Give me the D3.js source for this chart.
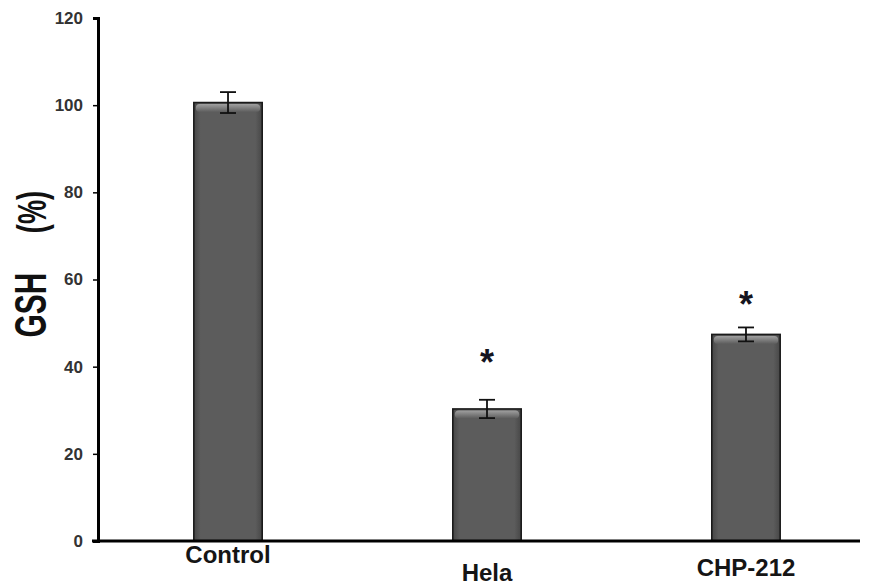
<!DOCTYPE html>
<html><head><meta charset="utf-8">
<script src="https://cdn.jsdelivr.net/npm/d3@7"></script>
<style>body{margin:0;background:#fff}</style>
</head><body>
<svg id="c" width="872" height="587"></svg>
<script>
const categories = ["Control", "Hela", "CHP-212"];
const values = [100.6, 30.3, 47.4];
const errors = [2.4, 2.1, 1.6];
const starValues = [null, 42.4, 55.8];
const yTicks = [0, 20, 40, 60, 80, 100, 120];
const yLabelMain = "GSH";
const yLabelUnit = "(%)";

const svg = d3.select("#c");
const font = "'Liberation Sans', Arial, sans-serif";
const mLeft = 98, mRight = 876, mTop = 18, mBottom = 541;
const y = d3.scaleLinear().domain([0, 120]).range([mBottom, mTop]);
const x = d3.scaleBand().domain(categories).range([mLeft, mRight]).paddingInner(0.736).paddingOuter(0.37);

const defs = svg.append("defs");
const g = defs.append("linearGradient").attr("id", "bg").attr("x1", 0).attr("x2", 1).attr("y1", 0).attr("y2", 0);
g.append("stop").attr("offset", "0").attr("stop-color", "#474747");
g.append("stop").attr("offset", "0.1").attr("stop-color", "#5c5c5c");
g.append("stop").attr("offset", "0.9").attr("stop-color", "#5c5c5c");
g.append("stop").attr("offset", "1").attr("stop-color", "#474747");
const gt = defs.append("linearGradient").attr("id", "tg").attr("x1", 0).attr("x2", 0).attr("y1", 0).attr("y2", 1);
gt.append("stop").attr("offset", "0").attr("stop-color", "#a0a0a0");
gt.append("stop").attr("offset", "1").attr("stop-color", "#5c5c5c");

// bars
const bars = svg.append("g");
categories.forEach((c, i) => {
  const bx = x(c), bw = x.bandwidth(), by = y(values[i]);
  bars.append("rect").attr("x", bx).attr("y", by).attr("width", bw).attr("height", mBottom - by)
    .attr("fill", "url(#bg)").attr("stroke", "#1a1a1a").attr("stroke-width", 1.6);
  bars.append("rect").attr("x", bx + 2).attr("y", by + 1.5).attr("width", bw - 4).attr("height", 8)
    .attr("fill", "url(#tg)").attr("rx", 4);
  const cx = bx + bw / 2;
  const e = svg.append("g").attr("stroke", "#111").attr("stroke-width", 1.8);
  e.append("line").attr("x1", cx).attr("x2", cx).attr("y1", y(values[i] - errors[i])).attr("y2", y(values[i] + errors[i]));
  [values[i] - errors[i], values[i] + errors[i]].forEach(v =>
    e.append("line").attr("x1", cx - 8).attr("x2", cx + 8).attr("y1", y(v)).attr("y2", y(v)));
  if (starValues[i] != null) {
    svg.append("text").attr("x", cx).attr("y", y(starValues[i]) + 19).attr("text-anchor", "middle")
      .attr("font-family", font).attr("font-weight", "bold").attr("font-size", 36).attr("fill", "#151520").text("*");
  }
});

// y axis
const ya = svg.append("g").attr("transform", `translate(${mLeft},0)`)
  .call(d3.axisLeft(y).tickValues(yTicks).tickSize(5).tickPadding(10));
ya.select(".domain").attr("stroke", "#000").attr("stroke-width", 3);
ya.selectAll(".tick line").attr("stroke", "#000").attr("stroke-width", 1.5);
ya.selectAll("text").attr("font-family", font).attr("font-weight", "bold").attr("font-size", 17).attr("fill", "#333");

// x axis line
svg.append("line").attr("x1", mLeft - 6).attr("x2", 860).attr("y1", mBottom).attr("y2", mBottom)
  .attr("stroke", "#000").attr("stroke-width", 3);

// x labels
const labelY = [563, 581, 576];
categories.forEach((c, i) => {
  svg.append("text").attr("x", x(c) + x.bandwidth() / 2).attr("y", labelY[i]).attr("text-anchor", "middle")
    .attr("font-family", font).attr("font-weight", "bold").attr("font-size", 24).attr("fill", "#151515").text(c);
});

// y label (condensed along its length, as in the reference)
svg.append("text").attr("transform", "translate(46,305) rotate(-90) scale(0.68,1)").attr("text-anchor", "middle")
  .attr("font-family", font).attr("font-weight", "bold").attr("font-size", 44).attr("fill", "#111").text(yLabelMain);
svg.append("text").attr("transform", "translate(46,212) rotate(-90) scale(0.68,1)").attr("text-anchor", "middle")
  .attr("font-family", font).attr("font-weight", "bold").attr("font-size", 40).attr("fill", "#111").text(yLabelUnit);
</script>
</body></html>
